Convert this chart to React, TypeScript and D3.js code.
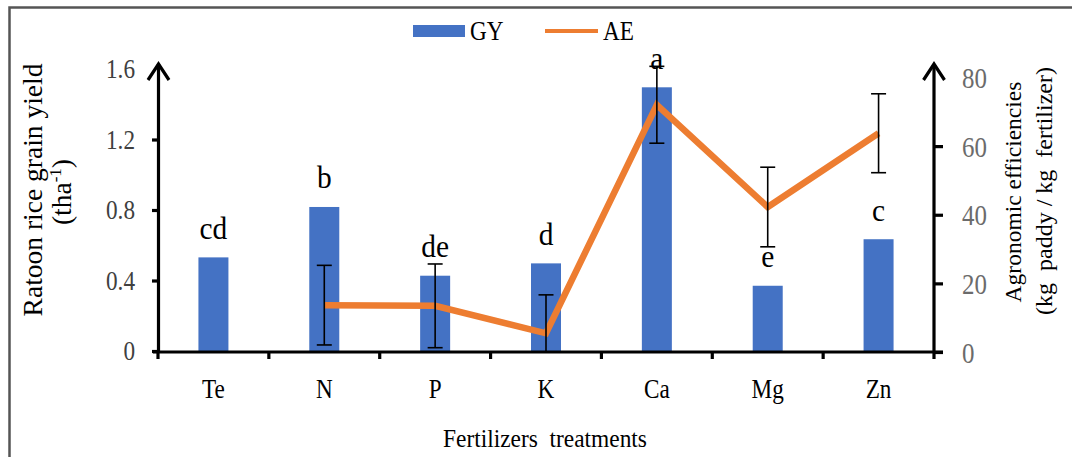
import React from "react";
import * as d3 from "d3";

const categories = ["Te", "N", "P", "K", "Ca", "Mg", "Zn"];
const gyValues = [0.534, 0.82, 0.43, 0.5, 1.499, 0.373, 0.637];
const gyLetters = ["cd", "b", "de", "d", "a", "e", "c"];
const aeValues: (number | null)[] = [null, 13.8, 13.6, 5.6, 72.2, 42.4, 63.9];
const aeErrors: (number | null)[] = [null, 11.6, 12.2, 11.2, 11.2, 11.6, 11.5];
const leftTicks = [0, 0.4, 0.8, 1.2, 1.6];
const rightTicks = [0, 20, 40, 60, 80];

const W = 1072;
const H = 457;
const FONT = "'Liberation Serif', 'Times New Roman', serif";
const BLUE = "#4472C4";
const ORANGE = "#ED7D31";
const SX = 0.86;

function T({ x, y, sx = SX, size, anchor = "middle", fill = "#000", children }: any) {
  return (
    <g transform={`translate(${x},${y}) scale(${sx},1)`}>
      <text x={0} y={0} textAnchor={anchor} fontSize={size} fill={fill} fontFamily={FONT} style={{ whiteSpace: "pre" }}>
        {children}
      </text>
    </g>
  );
}

export default function App() {
  const x = d3.scaleBand<string>().domain(categories).range([158, 934]).paddingInner(0).paddingOuter(0);
  const yL = d3.scaleLinear().domain([0, 1.6]).range([351.5, 69.5]);
  const yR = d3.scaleLinear().domain([0, 80]).range([352.5, 78]);
  const cx = (c: string) => (x(c) as number) + x.bandwidth() / 2;
  const barW = 30;
  const axisY = 352;

  const lineGen = d3
    .line<number | null>()
    .defined((d) => d !== null)
    .x((_, i) => cx(categories[i]))
    .y((d) => yR(d as number));

  const boundaries = categories.map((c) => x(c) as number).concat([934]);

  return (
    <svg width={W} height={H} style={{ position: "absolute", left: 0, top: 0, background: "#fff" }}>
      <rect x={0} y={0} width={W} height={H} fill="#fff" />
      {/* frame */}
      <rect x={9.5} y={7.5} width={1200} height={600} fill="none" stroke="#555" strokeWidth={2.5} />

      {/* legend */}
      <rect x={413} y={25} width={52} height={12} fill={BLUE} />
      <T x={470} y={39.5} size={27} anchor="start">GY</T>
      <line x1={545} x2={598} y1={31} y2={31} stroke={ORANGE} strokeWidth={4} />
      <T x={603} y={39.5} size={27} anchor="start">AE</T>

      {/* bars */}
      {categories.map((c, i) => (
        <rect key={c} x={cx(c) - barW / 2} y={yL(gyValues[i])} width={barW} height={yL(0) - yL(gyValues[i])} fill={BLUE} />
      ))}

      {/* AE line */}
      <path d={lineGen(aeValues) || ""} fill="none" stroke={ORANGE} strokeWidth={6.5} strokeLinejoin="miter" />

      {/* error bars */}
      {categories.map((c, i) => {
        const v = aeValues[i];
        const e = aeErrors[i];
        if (v === null || e === null) return null;
        const xc = cx(c);
        const top = yR(v + e);
        const lo = v - e;
        const bot = yR(Math.max(0, lo));
        return (
          <g key={c} stroke="#000" strokeWidth={1.6}>
            <line x1={xc} x2={xc} y1={top} y2={bot} />
            <line x1={xc - 7.5} x2={xc + 7.5} y1={top} y2={top} />
            {lo > 0 && <line x1={xc - 7.5} x2={xc + 7.5} y1={bot} y2={bot} />}
          </g>
        );
      })}

      {/* letters */}
      {categories.map((c, i) => (
        <T key={c} x={cx(c)} y={yL(gyValues[i]) - 18.5} size={31} sx={0.95}>
          {gyLetters[i]}
        </T>
      ))}

      {/* axes */}
      <g stroke="#000" strokeWidth={3.2} fill="none">
        <line x1={153} x2={943} y1={axisY} y2={axisY} />
        <line x1={158.5} x2={158.5} y1={axisY} y2={64} />
        <polyline points="148,80 158.5,64 169,80" strokeLinejoin="miter" />
        <line x1={934} x2={934} y1={axisY} y2={64} />
        <polyline points="923.5,80 934,64 944.5,80" strokeLinejoin="miter" />
        {leftTicks.filter((t) => t < 1.6).map((t) => (
          <line key={t} x1={152} x2={158.5} y1={yL(t)} y2={yL(t)} />
        ))}
        {rightTicks.filter((t) => t < 80).map((t) => (
          <line key={t} x1={934} x2={943} y1={yR(t)} y2={yR(t)} />
        ))}
        {boundaries.map((b, i) => (
          <line key={i} x1={b} x2={b} y1={axisY} y2={axisY + 7} />
        ))}
      </g>

      {/* left tick labels */}
      {leftTicks.map((t) => (
        <T key={t} x={135} y={yL(t) + 8.8} size={27} anchor="end" fill="#404040">
          {t === 0 ? "0" : t.toFixed(1)}
        </T>
      ))}
      {/* right tick labels */}
      {rightTicks.map((t) => (
        <T key={t} x={962} y={yR(t) + 10} size={29} anchor="start" fill="#6b6b6b">
          {String(t)}
        </T>
      ))}

      {/* category labels */}
      {categories.map((c) => (
        <T key={c} x={cx(c)} y={398} size={27}>
          {c}
        </T>
      ))}

      {/* axis titles */}
      <T x={545} y={446.5} size={26} sx={0.9}>
        Fertilizers  treatments
      </T>
      <text transform="translate(42,190) rotate(-90)" textAnchor="middle" fontSize={27.5} fontFamily={FONT} fill="#000" style={{ whiteSpace: "pre" }}>
        Ratoon rice grain yield
      </text>
      <text transform="translate(71,192) rotate(-90)" textAnchor="middle" fontSize={27.5} fontFamily={FONT} fill="#000">
        (tha<tspan fontSize={17} dy={-10}>-1</tspan><tspan dy={10}>)</tspan>
      </text>
      <text transform="translate(1021,192) rotate(-90)" textAnchor="middle" fontSize={23.5} fontFamily={FONT} fill="#000">
        Agronomic efficiencies
      </text>
      <text transform="translate(1052,191) rotate(-90)" textAnchor="middle" fontSize={24} fontFamily={FONT} fill="#000" style={{ whiteSpace: "pre" }}>
        (kg  paddy / kg  fertilizer)
      </text>
    </svg>
  );
}
